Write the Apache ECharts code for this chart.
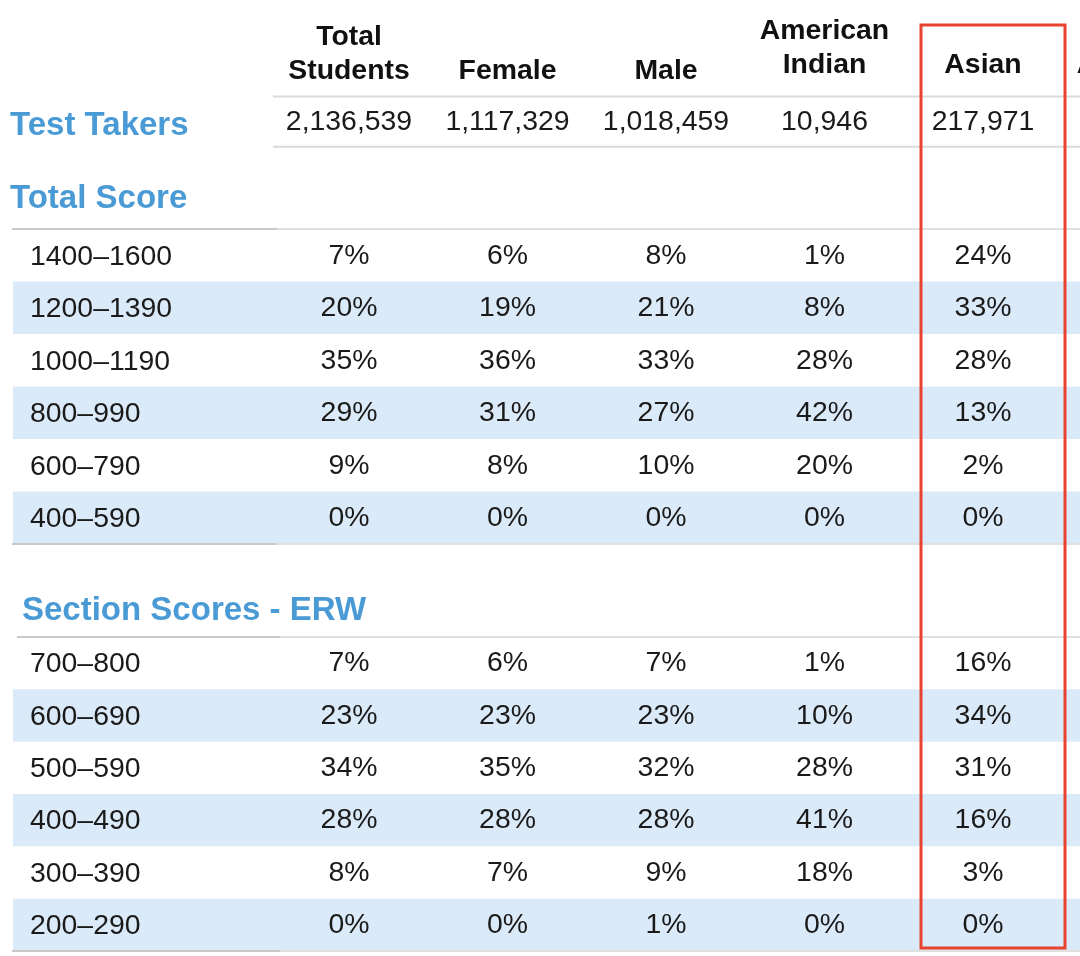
<!DOCTYPE html>
<html>
<head>
<meta charset="utf-8">
<script src="https://cdn.jsdelivr.net/npm/echarts@6/dist/echarts.min.js"></script>
<style>html,body{margin:0;padding:0;background:#fff}#c{width:1080px;height:956px}</style>
</head>
<body>
<div id="c"></div>
<script>
// ---- data ----
const columns = ['Total\nStudents', 'Female', 'Male', 'American\nIndian', 'Asian', 'African\nAmerican'];
const testTakersLabel = ['Test Takers'];
const testTakers = [2136539, 1117329, 1018459, 10946, 217971];

const totalScoreRows = ['1400–1600', '1200–1390', '1000–1190', '800–990', '600–790', '400–590'];
const totalScoreAll    = [7, 20, 35, 29, 9, 0];
const totalScoreFemale = [6, 19, 36, 31, 8, 0];
const totalScoreMale   = [8, 21, 33, 27, 10, 0];
const totalScoreAmInd  = [1, 8, 28, 42, 20, 0];
const totalScoreAsian  = [24, 33, 28, 13, 2, 0];

const erwRows = ['700–800', '600–690', '500–590', '400–490', '300–390', '200–290'];
const erwAll    = [7, 23, 34, 28, 8, 0];
const erwFemale = [6, 23, 35, 28, 7, 0];
const erwMale   = [7, 23, 32, 28, 9, 1];
const erwAmInd  = [1, 10, 28, 41, 18, 0];
const erwAsian  = [16, 34, 31, 16, 3, 0];

const sectionTitles = ['Total Score', 'Section Scores - ERW'];
const highlightColumn = 'Asian';

// ---- layout / style ----
const FONT = '"Liberation Sans", Arial, Helvetica, sans-serif';
const BLUE = '#4a9bd5';
const BAND = '#dbeaf8';
const TEXT = '#1a1a1a';
const COL_LEFT = 269.75, COL_W = 158.5;
const GA = {top: 96.5, height: 50.2};
const GB = {top: 229, height: 315};
const GC = {top: 637, height: 314};
const W = 1080;

function fmtInt(n) { return String(n).replace(/\B(?=(\d{3})+(?!\d))/g, ','); }

function cells(cols) {
  const data = [], labels = [];
  cols.forEach((arr, c) => arr.forEach((v, r) => { data.push([c, r]); labels.push(v); }));
  return {data, labels};
}
const cellsA = cells(testTakers.map(v => [fmtInt(v)]));
const cellsB = cells([totalScoreAll, totalScoreFemale, totalScoreMale, totalScoreAmInd, totalScoreAsian].map(a => a.map(v => v + '%')));
const cellsC = cells([erwAll, erwFemale, erwMale, erwAmInd, erwAsian].map(a => a.map(v => v + '%')));

function textSeries(idx, cs) {
  return {
    type: 'custom', xAxisIndex: idx, yAxisIndex: idx, clip: false, z: 5,
    data: cs.data,
    renderItem: (params, api) => {
      const p = api.coord([api.value(0), api.value(1)]);
      return {type: 'text', x: p[0], y: p[1] + 0.5, style: {text: cs.labels[params.dataIndex], fontSize: 28.4,
        fontFamily: FONT, fill: TEXT, align: 'center', verticalAlign: 'middle'}};
    }
  };
}
function bandSeries(idx, rows) {
  return {
    type: 'custom', xAxisIndex: idx, yAxisIndex: idx, clip: false, z: 1, silent: true,
    data: rows.map((r, i) => [0, i]).filter(d => d[1] % 2 === 1),
    renderItem: (params, api) => {
      const p = api.coord([0, api.value(1)]);
      const h = api.size([0, 1])[1];
      return {type: 'rect', shape: {x: 13, y: p[1] - h / 2, width: api.getWidth() - 13, height: h}, style: {fill: BAND}};
    }
  };
}

const hiCols = ['American\nIndian', 'Asian', 'African\nAmerican'];
function headerFmt(v) {
  const lines = v.split('\n').map(s => '{h|' + s + '}');
  if (hiCols.indexOf(v) >= 0) lines.push('{sp| }');
  return lines.join('\n');
}

function rowAxis(idx, rows) {
  return {type: 'category', gridIndex: idx, data: rows, inverse: true, z: 6,
    axisLine: {show: false}, axisTick: {show: false},
    axisLabel: {interval: 0, hideOverlap: false, align: 'left', margin: COL_LEFT - 30, formatter: '{r|{value}}',
      rich: {r: {fontSize: 28.4, fontFamily: FONT, color: TEXT, padding: [3, 0, 0, 0]}}}};
}

function hline(y, x1, x2, color) {
  return {type: 'line', shape: {x1: x1, y1: y, x2: x2, y2: y}, style: {stroke: color, lineWidth: 2}, z: 10, silent: true};
}
const DARK = '#c9c9c9', LIGHT = '#e0e0e0';
const graphics = [
  hline(GA.top, 273, W, '#dadada'),
  hline(GA.top + GA.height, 273, W, '#dadada'),
  hline(GB.top, 12, 277, DARK), hline(GB.top, 277, W, LIGHT),
  hline(GB.top + GB.height, 12, 277, DARK), hline(GB.top + GB.height, 277, W, LIGHT),
  hline(GC.top, 17, 280, DARK), hline(GC.top, 280, W, LIGHT),
  hline(GC.top + GC.height, 12, 280, DARK), hline(GC.top + GC.height, 280, W, LIGHT)
];

const chart = echarts.init(document.getElementById('c'), null, {renderer: 'canvas'});
const grid = g => ({left: COL_LEFT, width: COL_W * columns.length, top: g.top, height: g.height,
  containLabel: false, outerBoundsMode: 'none'});
chart.setOption({
  animation: false,
  backgroundColor: '#fff',
  textStyle: {fontFamily: FONT},
  title: [
    {text: sectionTitles[0], left: 10, top: 179, padding: 0, textStyle: {fontSize: 33, fontWeight: 'bold', color: BLUE, fontFamily: FONT, lineHeight: 40}},
    {text: sectionTitles[1], left: 22, top: 591, padding: 0, textStyle: {fontSize: 33, fontWeight: 'bold', color: BLUE, fontFamily: FONT, lineHeight: 40}}
  ],
  grid: [grid(GA), grid(GB), grid(GC)],
  xAxis: [
    {type: 'category', gridIndex: 0, data: columns, position: 'top',
      axisLine: {show: false}, axisTick: {show: false},
      axisLabel: {interval: 0, margin: 8, formatter: headerFmt, hideOverlap: false,
        rich: {h: {fontSize: 28.4, fontWeight: 'bold', fontFamily: FONT, color: '#111', lineHeight: 34, align: 'center'},
               sp: {fontSize: 4, lineHeight: 6}}}},
    {type: 'category', gridIndex: 1, data: columns, show: false},
    {type: 'category', gridIndex: 2, data: columns, show: false}
  ],
  yAxis: [
    {type: 'category', gridIndex: 0, data: testTakersLabel, inverse: true, z: 6,
      axisLine: {show: false}, axisTick: {show: false},
      axisLabel: {align: 'left', margin: COL_LEFT - 10, formatter: '{t|{value}}',
        rich: {t: {fontSize: 33, fontWeight: 'bold', color: BLUE, fontFamily: FONT, padding: [8, 0, 0, 0]}}}},
    rowAxis(1, totalScoreRows),
    rowAxis(2, erwRows)
  ],
  series: [
    textSeries(0, cellsA),
    bandSeries(1, totalScoreRows), textSeries(1, cellsB),
    bandSeries(2, erwRows), textSeries(2, cellsC)
  ],
  graphic: graphics
});

// highlight box around the Asian column
const cx = chart.convertToPixel({xAxisIndex: 0}, highlightColumn);
const boxBottom = GC.top + GC.height - 3;
chart.setOption({graphic: graphics.concat([{
  type: 'rect', z: 20, silent: true,
  shape: {x: cx - 62, y: 25, width: 144, height: boxBottom - 25},
  style: {fill: 'none', stroke: '#e8432e', lineWidth: 3}
}])});
</script>
</body>
</html>
